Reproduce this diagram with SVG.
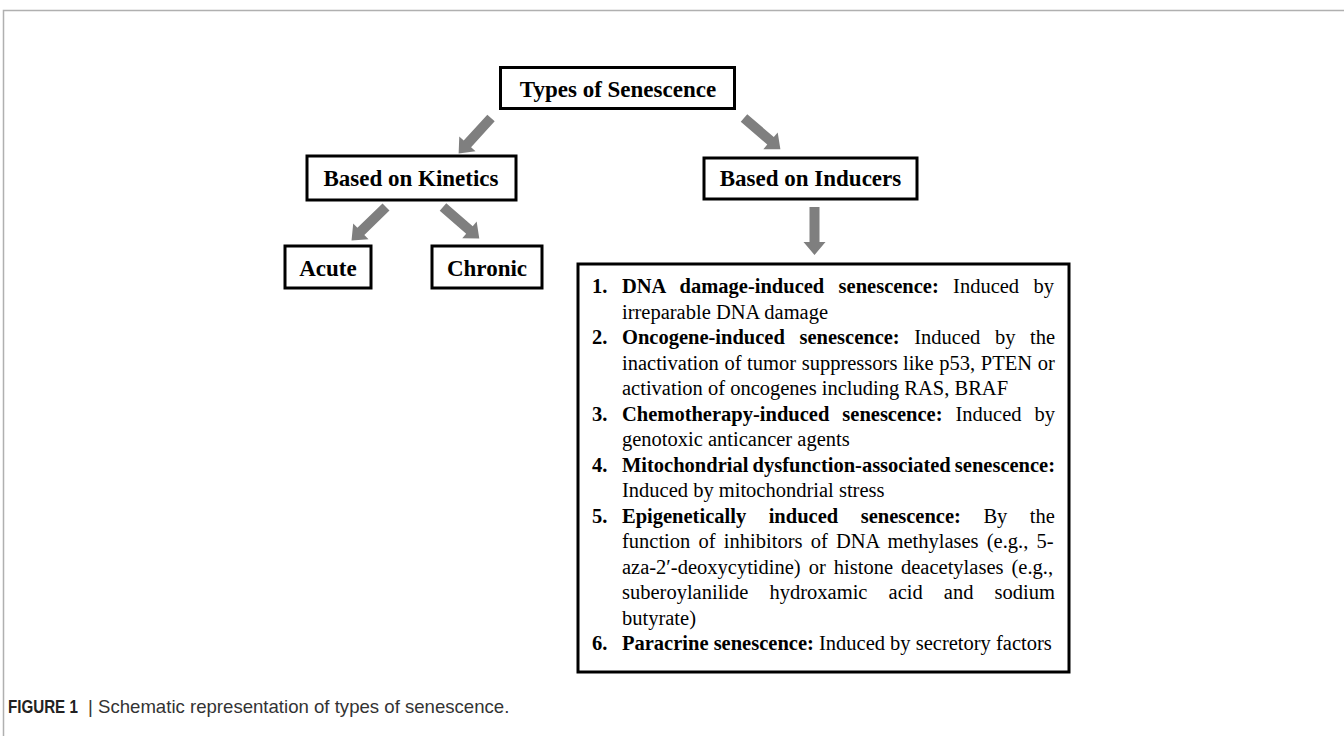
<svg xmlns="http://www.w3.org/2000/svg" xmlns:xlink="http://www.w3.org/1999/xlink" width="1344" height="736" viewBox="0 0 1344 736">
<style>
.box{fill:#fff;stroke:#000;stroke-width:3}
.lbl{font-family:"Liberation Serif","Times New Roman",serif;font-weight:bold;font-size:23px;fill:#000;text-anchor:middle}
.li{font-family:"Liberation Serif","Times New Roman",serif;font-size:20.5px;fill:#000}
.b{font-weight:bold}
.arr{fill:#7f7f7f}
.cap{font-family:"Liberation Sans",Arial,sans-serif;font-size:18.6px;fill:#333}
.capb{font-family:"Liberation Sans",Arial,sans-serif;font-size:18.6px;font-weight:bold;fill:#222}
</style>
<defs>
<path id="arr" d="M0,-5 H35 V-11 L48,0 L35,11 V5 H0 Z"/>
</defs>
<rect width="1344" height="736" fill="#fff"/>
<path d="M3.5,736 V10.5 H1344" fill="none" stroke="#b0b0b0" stroke-width="1.5"/>

<g id="connectors" class="arr">
<use xlink:href="#arr" href="#arr" transform="translate(491,118) rotate(132.4)"/>
<use xlink:href="#arr" href="#arr" transform="translate(744,118) rotate(40.7)"/>
<use xlink:href="#arr" href="#arr" transform="translate(386,207) rotate(135.9)"/>
<use xlink:href="#arr" href="#arr" transform="translate(443,207) rotate(40.9)"/>
<use xlink:href="#arr" href="#arr" transform="translate(814.5,207) rotate(90)"/>
</g>

<g id="types">
<rect class="box" x="500.5" y="67.5" width="234" height="41"/>
<text class="lbl" x="618" y="97">Types of Senescence</text>
</g>
<g id="kinetics">
<rect class="box" x="307" y="156" width="209" height="44"/>
<text class="lbl" x="411" y="186">Based on Kinetics</text>
</g>
<g id="inducers">
<rect class="box" x="704" y="158" width="213" height="41"/>
<text class="lbl" x="810.5" y="186">Based on Inducers</text>
</g>
<g id="acute">
<rect class="box" x="285" y="246" width="86" height="42"/>
<text class="lbl" x="328" y="276">Acute</text>
</g>
<g id="chronic">
<rect class="box" x="432" y="246" width="110" height="42"/>
<text class="lbl" x="487" y="276">Chronic</text>
</g>

<g id="inducer-list">
<rect class="box" x="578" y="264" width="491" height="408"/>
<g class="li">
<text class="b" x="592" y="293">1.</text>
<text x="622" y="293" word-spacing="9.2"><tspan class="b">DNA damage-induced senescence:</tspan> Induced by</text>
<text x="622" y="318.5">irreparable DNA damage</text>
<text class="b" x="592" y="344">2.</text>
<text x="622" y="344" word-spacing="9.5"><tspan class="b">Oncogene-induced senescence:</tspan> Induced by the</text>
<text x="622" y="369.5" word-spacing="0.5">inactivation of tumor suppressors like p53, PTEN or</text>
<text x="622" y="395">activation of oncogenes including RAS, BRAF</text>
<text class="b" x="592" y="420.5">3.</text>
<text x="622" y="420.5" word-spacing="7.9"><tspan class="b">Chemotherapy-induced senescence:</tspan> Induced by</text>
<text x="622" y="446">genotoxic anticancer agents</text>
<text class="b" x="592" y="471.5">4.</text>
<text class="b" x="622" y="471.5" word-spacing="-1">Mitochondrial dysfunction-associated senescence:</text>
<text x="622" y="497">Induced by mitochondrial stress</text>
<text class="b" x="592" y="522.5">5.</text>
<text x="622" y="522.5" word-spacing="17.4"><tspan class="b">Epigenetically induced senescence:</tspan> By the</text>
<text x="622" y="548" word-spacing="3.1">function of inhibitors of DNA methylases (e.g., 5-</text>
<text x="622" y="573.5" word-spacing="2.9">aza-2′-deoxycytidine) or histone deacetylases (e.g.,</text>
<text x="622" y="599" word-spacing="16">suberoylanilide hydroxamic acid and sodium</text>
<text x="622" y="624.5">butyrate)</text>
<text class="b" x="592" y="650">6.</text>
<text x="622" y="650"><tspan class="b">Paracrine senescence:</tspan> Induced by secretory factors</text>
</g>
</g>

<g id="caption">
<text class="capb" transform="translate(8,713) scale(0.815,1)">FIGURE 1</text>
<text class="cap" x="88" y="713" fill="#888">|</text>
<text class="cap" x="98" y="713">Schematic representation of types of senescence.</text>
</g>
</svg>
